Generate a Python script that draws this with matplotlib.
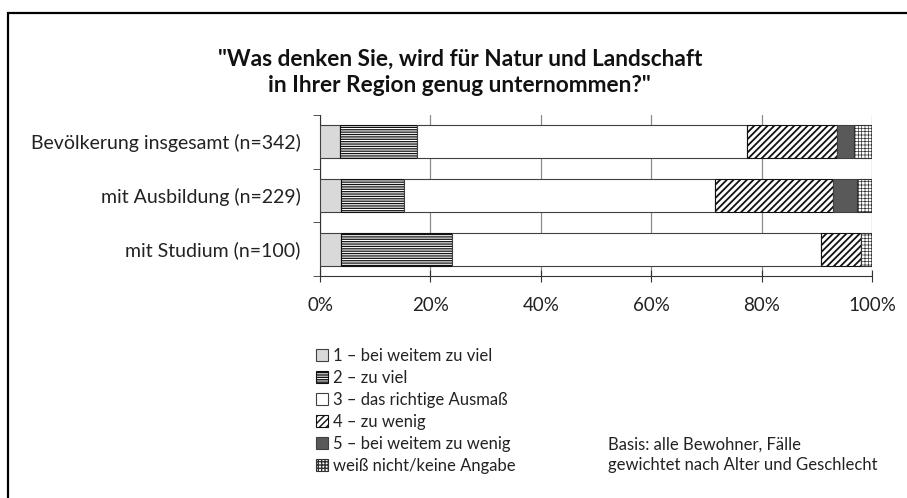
import matplotlib.pyplot as plt
from matplotlib.patches import Rectangle
import numpy as np

# Daten (Anteile in %)
kategorien = ["Bevölkerung insgesamt (n=342)", "mit Ausbildung (n=229)", "mit Studium (n=100)"]
antworten = ["1 – bei weitem zu viel", "2 – zu viel", "3 – das richtige Ausmaß",
             "4 – zu wenig", "5 – bei weitem zu wenig", "weiß nicht/keine Angabe"]
werte_1 = [3.7, 3.8, 3.8]
werte_2 = [13.8, 11.4, 20.2]
werte_3 = [59.8, 56.3, 66.8]
werte_4 = [16.4, 21.4, 7.2]
werte_5 = [3.0, 4.3, 0.0]
werte_6 = [3.3, 2.8, 2.0]
x_ticks = [0, 20, 40, 60, 80, 100]

titel = '"Was denken Sie, wird für Natur und Landschaft\nin Ihrer Region genug unternommen?"'
basis = "Basis: alle Bewohner, Fälle\ngewichtet nach Alter und Geschlecht"

plt.rcParams['font.family'] = ['Lato', 'DejaVu Sans']

farben = ['#d9d9d9', 'white', 'white', 'white', '#595959', 'white']
muster = [None, '-------', None, '/////', None, '+++++']
kanten = ['#404040', '#111111', '#404040', '#111111', '#404040', '#333333']
hatch_lw = [0.6, 0.9, 0.6, 1.3, 0.6, 0.5]

fig = plt.figure(figsize=(9.07, 4.98), dpi=100)
ax = fig.add_axes([320 / 907, 222 / 498, 552 / 907, 161 / 498])

y = np.arange(len(kategorien))[::-1]
links = np.zeros(len(kategorien))
alle = [werte_1, werte_2, werte_3, werte_4, werte_5, werte_6]
for i, werte in enumerate(alle):
    werte = np.array(werte)
    with plt.rc_context({'hatch.linewidth': hatch_lw[i]}):
        ax.barh(y, werte, left=links, height=0.62, color=farben[i], hatch=muster[i],
                edgecolor=kanten[i], linewidth=0.8, label=antworten[i], zorder=3)
    links += werte

ax.set_xlim(0, 100)
ax.set_ylim(-0.5, 2.5)
ax.set_xticks(x_ticks)
ax.set_xticklabels([f"{t}%" for t in x_ticks], fontsize=13.5, color='#222222')
ax.set_yticks(y)
ax.set_yticklabels(kategorien, fontsize=14, color='#222222')
ax.set_yticks([-0.5, 0.5, 1.5, 2.5], minor=True)
ax.tick_params(axis='y', which='major', length=0, pad=14)
ax.tick_params(axis='y', which='minor', length=5, color='#333333', direction='out')
ax.tick_params(axis='x', length=8, direction='inout', color='#333333', pad=11)
ax.xaxis.grid(True, color='#8c8c8c', linewidth=0.9, zorder=0)
ax.set_axisbelow(True)
for s in ['top', 'right']:
    ax.spines[s].set_visible(False)
ax.spines['left'].set_color('#333333')
ax.spines['bottom'].set_color('#333333')

fig.text(0.507, 0.855, titel, ha='center', va='center', fontsize=16.3,
         fontweight='bold', linespacing=1.3, color='#111111')

leg = fig.legend(loc='upper left', bbox_to_anchor=(316 / 907, 1 - 348 / 498), frameon=False,
                 fontsize=12, handlelength=0.7, handleheight=0.7, handletextpad=0.3,
                 labelspacing=0.36, borderpad=0, borderaxespad=0)
for t in leg.get_texts():
    t.set_color('#222222')

fig.text(608 / 907, 1 - 455 / 498, basis, ha='left', va='center', fontsize=12,
         linespacing=1.3, color='#222222')

# Rahmen
fig.patches.append(Rectangle((8 / 907, -0.05), 1.0, 0.05 + 1 - 13 / 498,
                             transform=fig.transFigure, fill=False,
                             edgecolor='black', linewidth=1.6))

fig.savefig('out.png', dpi=100)
